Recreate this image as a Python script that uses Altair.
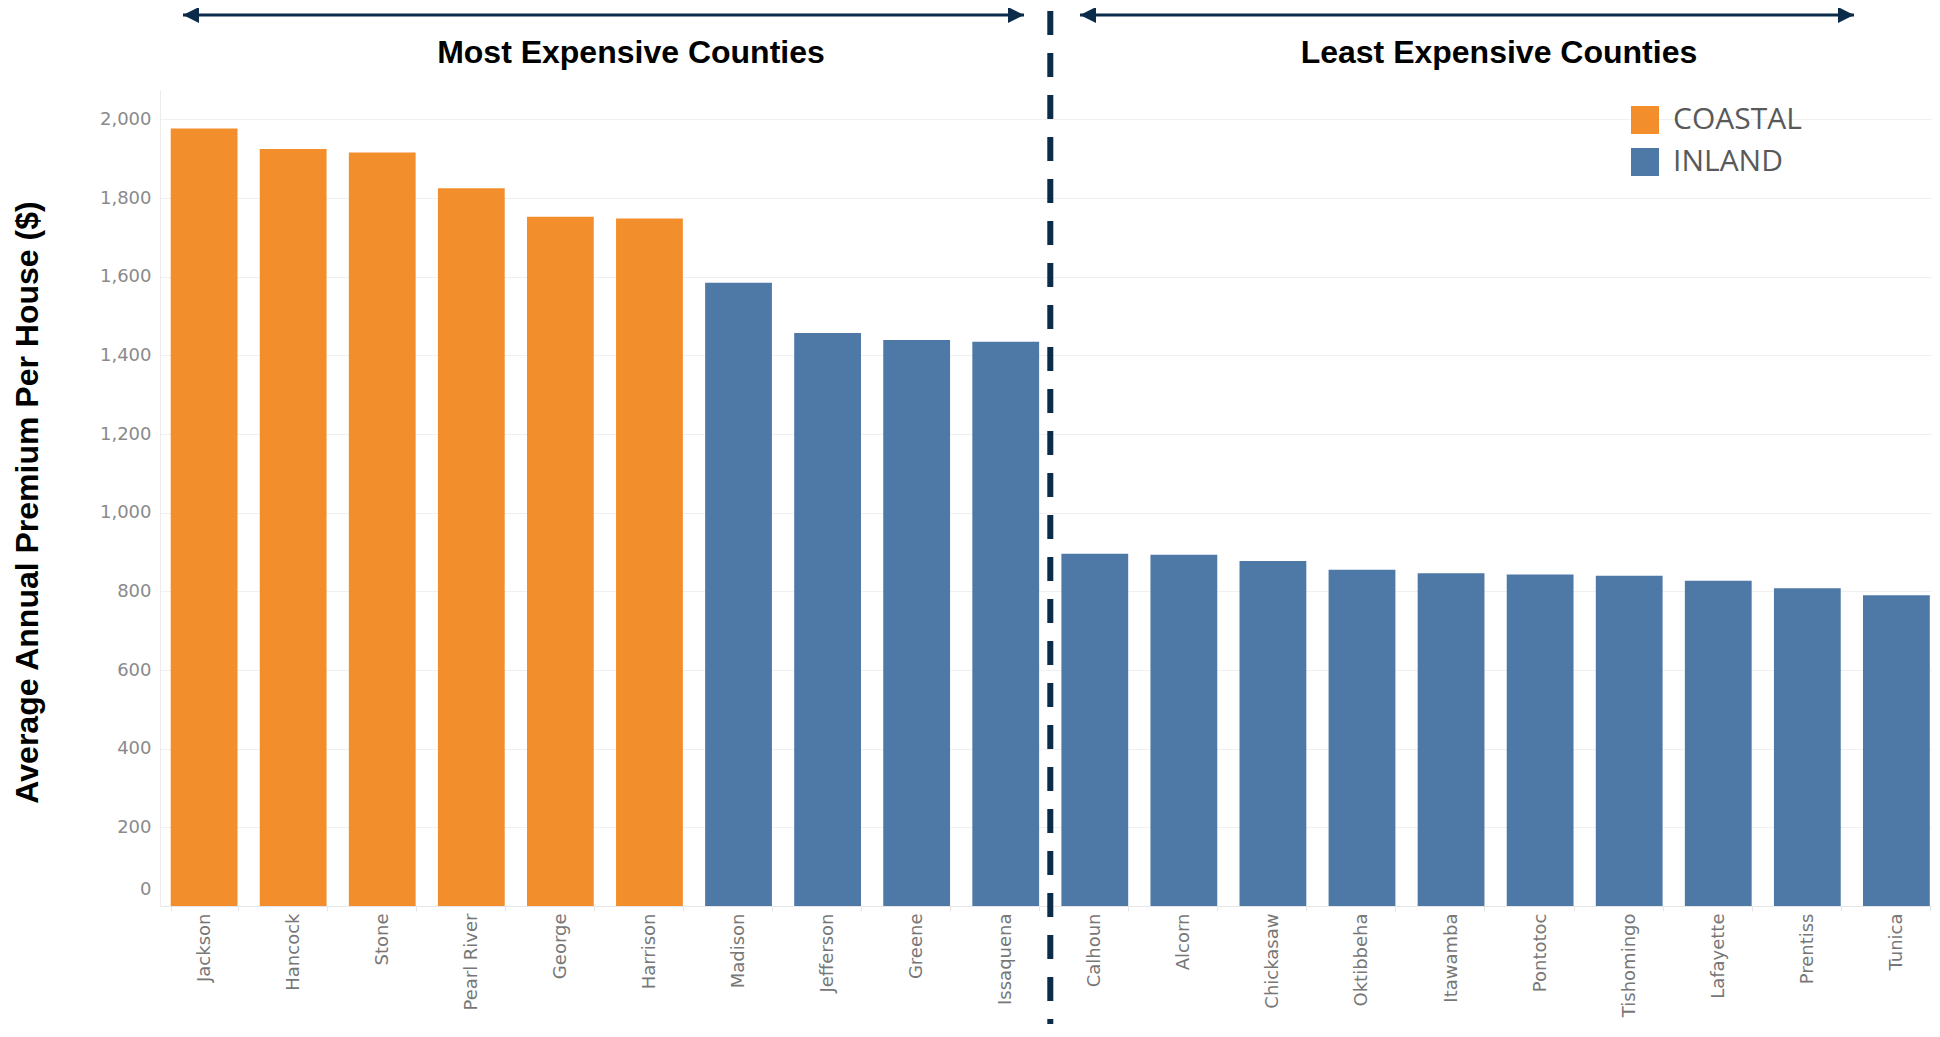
import altair as alt
import pandas as pd

# ---------------- data ----------------
counties = ["Jackson", "Hancock", "Stone", "Pearl River", "George", "Harrison",
            "Madison", "Jefferson", "Greene", "Issaquena",
            "Calhoun", "Alcorn", "Chickasaw", "Oktibbeha", "Itawamba", "Pontotoc",
            "Tishomingo", "Lafayette", "Prentiss", "Tunica"]
premiums = [1977, 1925, 1916, 1825, 1753, 1748,
            1585, 1457, 1439, 1435,
            896, 893, 877, 855, 846, 843, 840, 827, 808, 790]
regions = ["COASTAL", "COASTAL", "COASTAL", "COASTAL", "COASTAL", "COASTAL",
           "INLAND", "INLAND", "INLAND", "INLAND",
           "INLAND", "INLAND", "INLAND", "INLAND", "INLAND", "INLAND",
           "INLAND", "INLAND", "INLAND", "INLAND"]
region_names = ["COASTAL", "INLAND"]
region_colors = ["#F28E2B", "#4E79A7"]
y_ticks = [0, 200, 400, 600, 800, 1000, 1200, 1400, 1600, 1800, 2000]
group_labels = ["Most Expensive Counties", "Least Expensive Counties"]

df = pd.DataFrame({"county": counties, "premium": premiums, "region": regions})

NAVY = "#0b2b4a"
W, H = 1772, 816

x_scale = alt.Scale(domain=counties, paddingInner=0.25, paddingOuter=0.0724, align=0.83)
y_scale = alt.Scale(domain=[0, 2075], nice=False)

x_axis = alt.Axis(labelAngle=270, labelFont="DejaVu Sans", labelFontSize=18,
                  labelColor="#777777", tickBand="extent", tickSize=5,
                  tickColor="#e6e6e6", domainColor="#e6e6e6", labelPadding=2,
                  grid=False, title=None)

bars = alt.Chart(df).mark_bar().encode(
    x=alt.X("county:N", scale=x_scale, title=None, axis=x_axis),
    y=alt.Y("premium:Q", scale=y_scale, title="Average Annual Premium Per House ($)",
            axis=alt.Axis(values=y_ticks, format=",d", labelFont="DejaVu Sans",
                          labelFontSize=18, labelColor="#8a8a8a", labelPadding=9,
                          ticks=False, domainColor="#ececec", gridColor="#f0f0f0",
                          labelFlush=10, labelFlushOffset=-8,
                          titleFont="Liberation Sans", titleFontSize=32,
                          titleFontWeight="bold", titleColor="black", titleAngle=270,
                          titleX=-133, titleY=412, titleAlign="center",
                          titleBaseline="middle")),
    color=alt.Color("region:N",
                    scale=alt.Scale(domain=region_names, range=region_colors),
                    legend=alt.Legend(title=None, orient="none", legendX=1470, legendY=15,
                                      direction="vertical", symbolType="square",
                                      symbolSize=784, symbolStrokeWidth=0,
                                      labelFont="Open Sans", labelFontSize=30,
                                      labelColor="#595959", labelOffset=13,
                                      rowPadding=12, padding=0)),
)


def xenc(field):
    return alt.X(field + ":N", scale=x_scale, axis=x_axis, title=None, bandPosition=0.5)


def arrow(start, end, start_off, end_off):
    d = pd.DataFrame({"s": [start], "e": [end]})
    line = alt.Chart(d).mark_rule(color=NAVY, strokeWidth=3,
                                  xOffset=start_off, x2Offset=end_off).encode(
        x=xenc("s"), x2=alt.X2("e:N"), y=alt.value(-75))
    lh = alt.Chart(pd.DataFrame({"a": [start]})).mark_point(
        shape="M0,0L2,-1L2,1Z", filled=True, color=NAVY, opacity=1, size=256,
        strokeWidth=0, xOffset=start_off).encode(x=xenc("a"), y=alt.value(-75))
    rh = alt.Chart(pd.DataFrame({"a": [end]})).mark_point(
        shape="M0,0L-2,-1L-2,1Z", filled=True, color=NAVY, opacity=1, size=256,
        strokeWidth=0, xOffset=end_off).encode(x=xenc("a"), y=alt.value(-75))
    return [line, lh, rh]


def label(anchor, text, dx):
    return alt.Chart(pd.DataFrame({"a": [anchor], "t": [text]})).mark_text(
        font="Liberation Sans", fontWeight="bold", fontSize=32, color="black",
        align="center", baseline="middle", dx=dx).encode(
        x=xenc("a"), y=alt.value(-37), text="t:N")


divider = alt.Chart(pd.DataFrame({"a": ["Calhoun"]})).mark_rule(
    color=NAVY, strokeWidth=6, strokeDash=[24, 18], xOffset=-44.5).encode(
    x=xenc("a"), y=alt.value(-79), y2=alt.value(H + 120))

layers = [bars, divider]
layers += arrow("Jackson", "Issaquena", -21.1, 18.3)
layers += arrow("Calhoun", "Tunica", -14.8, -42.4)
layers.append(label("Harrison", group_labels[0], -18.5))
layers.append(label("Pontotoc", group_labels[1], -41.2))

chart = alt.layer(*layers).properties(
    width=W, height=H,
    autosize=alt.AutoSizeParams(type="none"),
    padding={"left": 152, "top": 82, "right": 0, "bottom": 118},
    background="white",
).configure_view(stroke=None)

chart.save("out.html", embed_options={"renderer": "svg", "actions": False})
